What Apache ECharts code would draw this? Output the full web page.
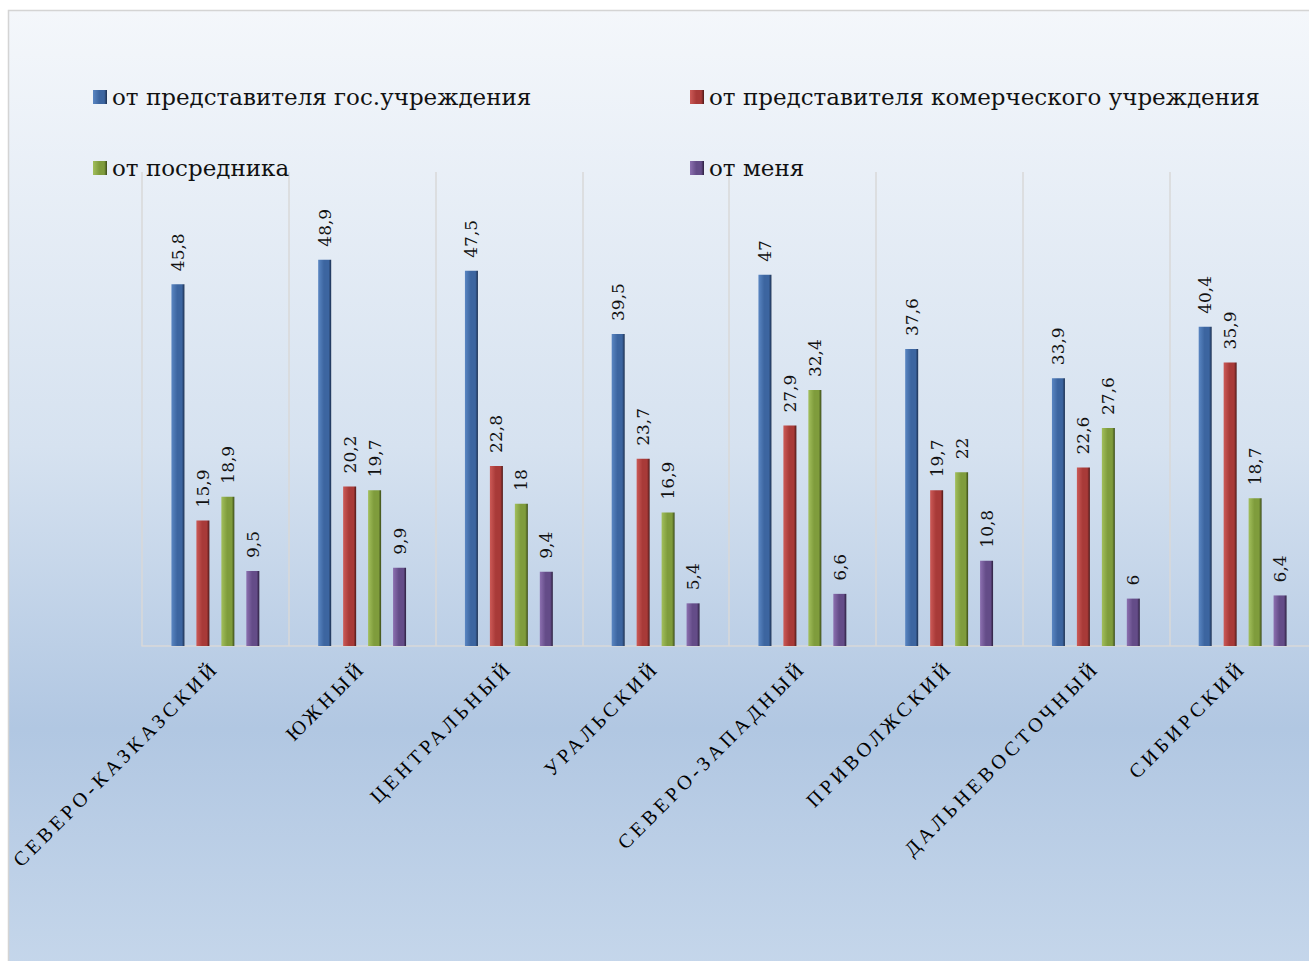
<!DOCTYPE html>
<html>
<head>
<meta charset="utf-8">
<script src="https://cdn.jsdelivr.net/npm/echarts@6/dist/echarts.min.js"></script>
<style>
  html, body { margin: 0; padding: 0; background: #ffffff; overflow: hidden; }
  #chart { width: 1316px; height: 961px; }
  #chart svg text[fill="#010101"] { letter-spacing: 4px; }
</style>
</head>
<body>
<div id="chart"></div>
<script>
const categories = ['СЕВЕРО-КАЗКАЗСКИЙ', 'ЮЖНЫЙ', 'ЦЕНТРАЛЬНЫЙ', 'УРАЛЬСКИЙ', 'СЕВЕРО-ЗАПАДНЫЙ', 'ПРИВОЛЖСКИЙ', 'ДАЛЬНЕВОСТОЧНЫЙ', 'СИБИРСКИЙ'];
const seriesNames = ['от представителя гос.учреждения', 'от представителя комерческого учреждения', 'от посредника', 'от меня'];
const govValues = [45.8, 48.9, 47.5, 39.5, 47, 37.6, 33.9, 40.4];
const comValues = [15.9, 20.2, 22.8, 23.7, 27.9, 19.7, 22.6, 35.9];
const medValues = [18.9, 19.7, 18, 16.9, 32.4, 22, 27.6, 18.7];
const meValues = [9.5, 9.9, 9.4, 5.4, 6.6, 10.8, 6, 6.4];

const palettes = [
  ['#5a86c2', '#3c65a0', '#1c2f4f'],
  ['#cc5a57', '#a83a38', '#4e1918'],
  ['#a2bf5c', '#7f9c3c', '#3a4a18'],
  ['#8c70b0', '#644c88', '#2b1f3e']
];
function grad(p) {
  return new echarts.graphic.LinearGradient(0, 0, 1, 0, [
    { offset: 0, color: p[0] },
    { offset: 0.45, color: p[1] },
    { offset: 0.8, color: p[1] },
    { offset: 1, color: p[2] }
  ]);
}
const allValues = [govValues, comValues, medValues, meValues];

const chart = echarts.init(document.getElementById('chart'), null, { renderer: 'svg' });
const series = allValues.map((vals, i) => ({
  name: seriesNames[i],
  type: 'bar',
  data: vals,
  barWidth: 13,
  barGap: '92%',
  itemStyle: { color: grad(palettes[i]) },
  label: {
    show: true,
    position: 'top',
    rotate: 90,
    align: 'left',
    verticalAlign: 'middle',
    distance: 13,
    fontFamily: 'DejaVu Serif',
    fontSize: 17,
    color: '#111',
    formatter: p => String(p.value).replace('.', ',')
  }
}));

const legendText = { fontFamily: 'DejaVu Serif', fontSize: 23, lineHeight: 24, color: '#111' };

chart.setOption({
  backgroundColor: '#ffffff',
  animation: false,
  graphic: [{
    type: 'rect',
    z: -100,
    silent: true,
    shape: { x: 8.5, y: 10.5, width: 1320, height: 970 },
    style: {
      fill: new echarts.graphic.LinearGradient(0, 0, 0, 1, [
        { offset: 0, color: '#f4f7fb' },
        { offset: 0.45, color: '#d6e2f0' },
        { offset: 0.74, color: '#b1c7e2' },
        { offset: 1, color: '#c6d7eb' }
      ]),
      stroke: '#d4d4d4',
      lineWidth: 1.5
    }
  }],
  legend: [{
    data: [seriesNames[0], seriesNames[2]],
    orient: 'vertical',
    left: 93,
    top: 85,
    padding: 0,
    icon: 'rect',
    itemWidth: 14,
    itemHeight: 14,
    itemGap: 47,
    textStyle: legendText
  }, {
    data: [seriesNames[1], seriesNames[3]],
    orient: 'vertical',
    left: 690,
    top: 85,
    padding: 0,
    icon: 'rect',
    itemWidth: 14,
    itemHeight: 14,
    itemGap: 47,
    textStyle: legendText
  }],
  grid: { left: 142, right: 0, top: 172, bottom: 315, containLabel: false },
  xAxis: {
    type: 'category',
    data: categories,
    axisLine: { show: true, lineStyle: { color: '#d9d9d9', width: 1.5 } },
    axisTick: { show: false },
    splitLine: { show: true, lineStyle: { color: '#d9d9d9', width: 1.5 } },
    axisLabel: {
      interval: 0,
      rotate: 45,
      margin: 18,
      fontFamily: 'Liberation Serif',
      fontSize: 20,
      color: '#010101'
    }
  },
  yAxis: {
    type: 'value',
    min: 0,
    max: 60,
    show: false,
    splitLine: { show: false }
  },
  series: series
});
</script>
</body>
</html>
